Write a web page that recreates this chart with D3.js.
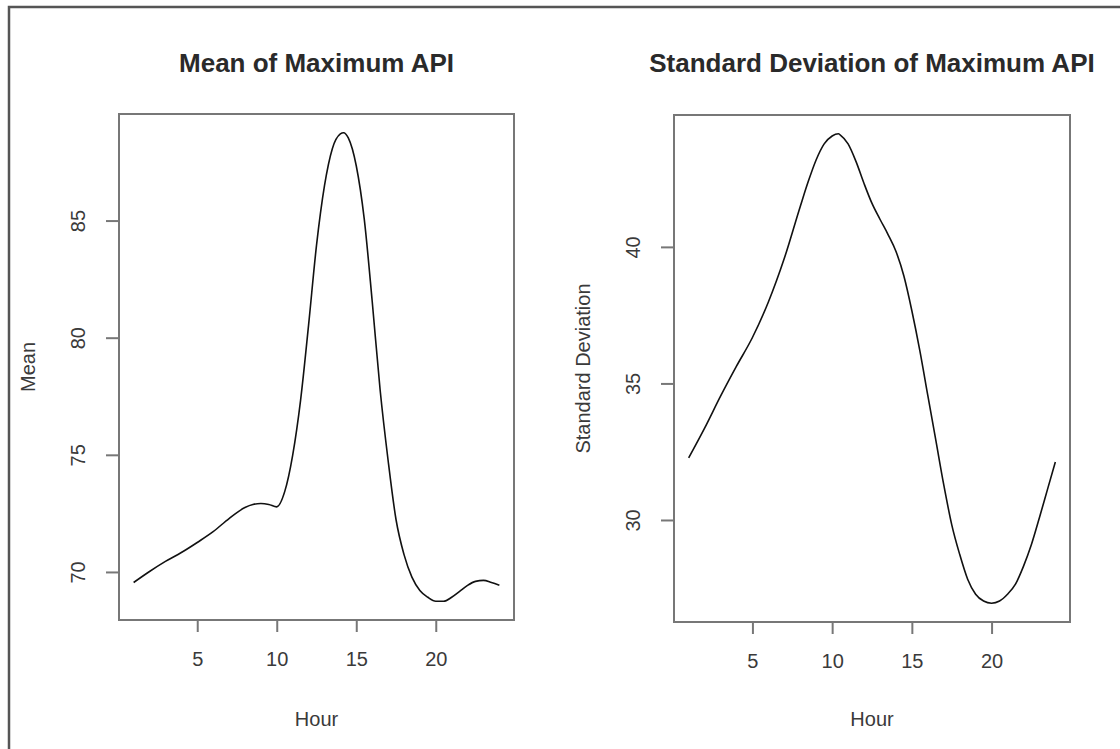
<!DOCTYPE html>
<html>
<head>
<meta charset="utf-8">
<script src="https://cdn.jsdelivr.net/npm/d3@7"></script>
<style>
  html, body { margin: 0; padding: 0; background: #fff; }
  svg { display: block; font-family: "Liberation Sans", Arial, sans-serif; }
</style>
</head>
<body>
<svg id="chart" width="1120" height="749"></svg>
<script>
// Hour of day, mean of max API
const meanHours = [1, 2, 3, 4, 5, 6, 7, 8, 8.5, 9, 9.5, 10, 10.5, 11, 11.5, 12, 12.5, 13, 13.5, 14, 14.2, 14.5,
  15, 15.5, 16, 16.5, 17, 17.5, 18, 18.5, 19, 19.5, 20, 20.5, 21, 21.5, 22, 22.5, 23, 23.5, 24]
const meanValues = [69.57, 70.04, 70.47, 70.85, 71.28, 71.74, 72.3, 72.77, 72.9, 72.94, 72.9, 72.8, 73.45, 75.0, 77.36,
  80.55, 83.96, 86.5, 88.1, 88.72, 88.77, 88.55, 87.36, 85.1, 81.6, 77.8, 74.8, 72.26, 70.77, 69.8, 69.23,
  68.94, 68.77, 68.77, 68.94, 69.19, 69.45, 69.62, 69.66, 69.57, 69.45]

// Hour of day, standard deviation of max API
const sdHours = [1, 2, 3, 4, 5, 6, 7, 8, 8.5, 9, 9.5, 10, 10.4, 10.5, 11, 11.5, 12, 12.5, 13, 13.5, 14, 14.5,
  15, 15.5, 16, 16.5, 17, 17.5, 18, 18.5, 19, 19.5, 20, 20.5, 21, 21.5, 22, 22.5, 23, 23.5, 24]
const sdValues = [32.29, 33.38, 34.55, 35.65, 36.7, 38.0, 39.6, 41.5, 42.41, 43.21, 43.79, 44.08, 44.16, 44.12,
  43.79, 43.14, 42.34, 41.61, 41.03, 40.48, 39.86, 38.95, 37.68, 36.22, 34.58, 32.95, 31.31, 29.85, 28.76,
  27.85, 27.3, 27.05, 26.97, 27.05, 27.3, 27.67, 28.32, 29.12, 30.1, 31.12, 32.14]

const xTicks = [5, 10, 15, 20]
const meanTicks = [70, 75, 80, 85]
const sdTicks = [30, 35, 40]

const svg = d3.select("#chart")

// outer frame (only top and left edges show in the picture)
svg.append("path")
  .attr("d", "M9,749 L9,7 L1120,7")
  .attr("fill", "none")
  .attr("stroke", "#555")
  .attr("stroke-width", 2.5)

// R-style padded extent (4% each side)
function padded(vals) {
  const [lo, hi] = d3.extent(vals)
  const p = (hi - lo) * 0.04
  return [lo - p, hi + p]
}

function panel(opts) {
  const { left, right, top, bottom, hours, values, yTicks, title, ylab } = opts

  const x = d3.scaleLinear().domain(padded(hours)).range([left, right])
  const y = d3.scaleLinear().domain(padded(values)).range([bottom, top])

  const g = svg.append("g")

  // x axis ticks + labels
  g.append("g")
    .attr("transform", `translate(0,${bottom})`)
    .call(d3.axisBottom(x).tickValues(xTicks).tickSize(12).tickSizeOuter(0).tickPadding(20))
    .call(a => a.select(".domain").remove())
    .call(a => a.selectAll("line").attr("stroke", "#777").attr("stroke-width", 2))
    .call(a => a.selectAll("text").attr("font-size", "20px").attr("fill", "#3a3a3a")
      .attr("font-family", "'Liberation Sans', Arial, sans-serif"))

  // y axis ticks
  g.selectAll(".ytick")
    .data(yTicks)
    .join("line")
    .attr("x1", left - 13)
    .attr("x2", left)
    .attr("y1", d => y(d))
    .attr("y2", d => y(d))
    .attr("stroke", "#777")
    .attr("stroke-width", 2)

  // y tick labels, rotated like R's default las = 0
  g.selectAll(".ylab")
    .data(yTicks)
    .join("text")
    .attr("transform", d => `translate(${left - 34},${y(d)}) rotate(-90)`)
    .attr("text-anchor", "middle")
    .attr("font-size", "20px")
    .attr("fill", "#3a3a3a")
    .text(d => d)

  // plot box
  g.append("rect")
    .attr("x", left)
    .attr("y", top)
    .attr("width", right - left)
    .attr("height", bottom - top)
    .attr("fill", "none")
    .attr("stroke", "#777")
    .attr("stroke-width", 2)

  // curve
  const line = d3.line()
    .x((d, i) => x(hours[i]))
    .y(d => y(d))
    .curve(d3.curveMonotoneX)

  g.append("path")
    .datum(values)
    .attr("d", line)
    .attr("fill", "none")
    .attr("stroke", "#111")
    .attr("stroke-width", 1.6)

  // titles
  g.append("text")
    .attr("x", (left + right) / 2)
    .attr("y", 72)
    .attr("text-anchor", "middle")
    .attr("font-size", "26px")
    .attr("font-weight", "bold")
    .attr("fill", "#2a2a2a")
    .text(title)

  g.append("text")
    .attr("x", (left + right) / 2)
    .attr("y", 726)
    .attr("text-anchor", "middle")
    .attr("font-size", "20px")
    .attr("fill", "#3a3a3a")
    .text("Hour")

  g.append("text")
    .attr("transform", `translate(${left - 84},${(top + bottom) / 2}) rotate(-90)`)
    .attr("text-anchor", "middle")
    .attr("font-size", "20px")
    .attr("fill", "#3a3a3a")
    .text(ylab)
}

panel({
  left: 119, right: 514, top: 114, bottom: 620,
  hours: meanHours, values: meanValues, yTicks: meanTicks,
  title: "Mean of Maximum API", ylab: "Mean"
})

panel({
  left: 674, right: 1070, top: 115, bottom: 622,
  hours: sdHours, values: sdValues, yTicks: sdTicks,
  title: "Standard Deviation of Maximum API", ylab: "Standard Deviation"
})
</script>
</body>
</html>
